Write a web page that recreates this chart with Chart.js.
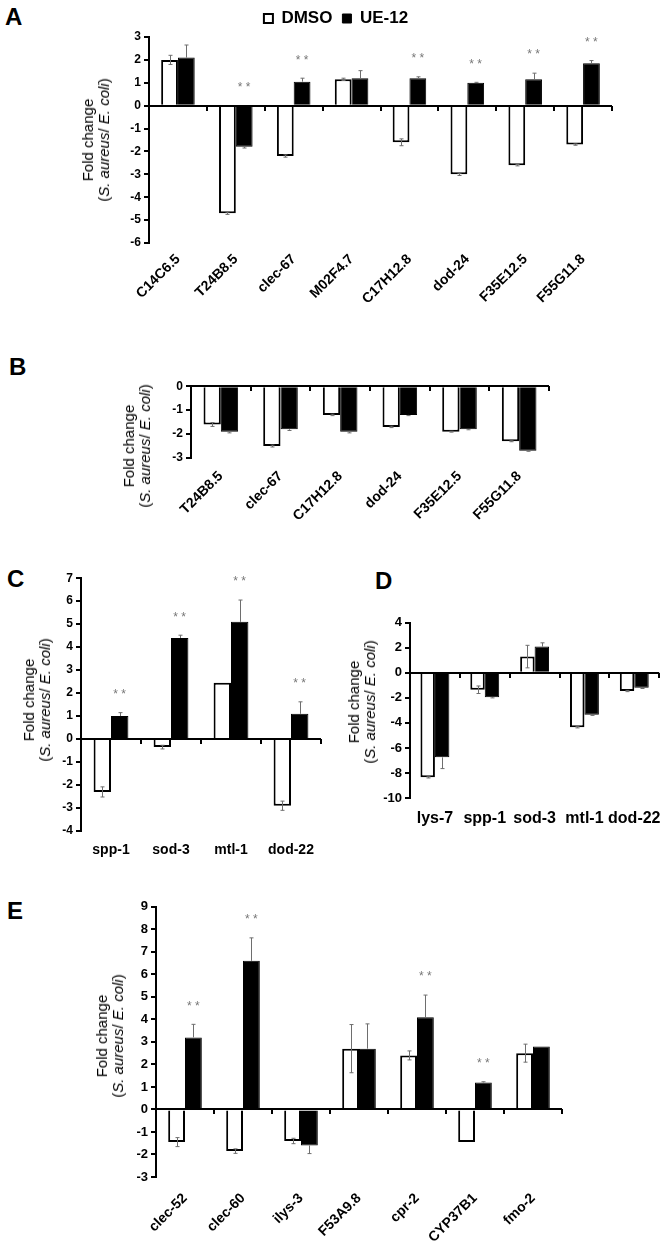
<!DOCTYPE html>
<html>
<head>
<meta charset="utf-8">
<script src="https://cdn.jsdelivr.net/npm/chart.js@4.4.1/dist/chart.umd.min.js"></script>
<style>
  html, body { margin: 0; padding: 0; background: #fff; }
  body { width: 672px; height: 1244px; position: relative; overflow: hidden; font-family: "Liberation Sans", Arial, sans-serif; color: #000; }
  .box { position: absolute; }
  .letter { position: absolute; font-weight: bold; font-size: 24px; line-height: 1; }
  .ytitle { position: absolute; transform: translate(-50%, -50%) rotate(-90deg); white-space: nowrap; text-align: center; font-size: 15px; line-height: 16px; }
</style>
</head>
<body>
<div class="letter" style="left:5px; top:5px">A</div>
<div class="letter" style="left:9px; top:355px">B</div>
<div class="letter" style="left:7px; top:567px">C</div>
<div class="letter" style="left:375px; top:569px">D</div>
<div class="letter" style="left:7px; top:899px">E</div>

<div class="box" style="left:0; top:0; width:672px; height:313px"><canvas id="chartA"></canvas></div>
<div class="box" style="left:0; top:376px; width:569px; height:162px"><canvas id="chartB"></canvas></div>
<div class="box" style="left:0; top:568px; width:340px; height:303px"><canvas id="chartC"></canvas></div>
<div class="box" style="left:340px; top:612px; width:332px; height:226px"><canvas id="chartD"></canvas></div>
<div class="box" style="left:0; top:896px; width:600px; height:348px"><canvas id="chartE"></canvas></div>

<div class="ytitle" style="left:96px; top:140px">Fold change<br>(<i>S. aureus</i>/ <i>E. coli</i>)</div>
<div class="ytitle" style="left:137px; top:446px">Fold change<br>(<i>S. aureus</i>/ <i>E. coli</i>)</div>
<div class="ytitle" style="left:37px; top:700px">Fold change<br>(<i>S. aureus</i>/ <i>E. coli</i>)</div>
<div class="ytitle" style="left:362px; top:702px">Fold change<br>(<i>S. aureus</i>/ <i>E. coli</i>)</div>
<div class="ytitle" style="left:110px; top:1036px">Fold change<br>(<i>S. aureus</i>/ <i>E. coli</i>)</div>

<script>
// panel A
const catsA = ["C14C6.5", "T24B8.5", "clec-67", "M02F4.7", "C17H12.8", "dod-24", "F35E12.5", "F55G11.8"];
const dmsoA = [2.0, -4.7, -2.2, 1.15, -1.6, -3.0, -2.6, -1.7];
const dmsoErrA = [0.2, 0.05, 0.05, 0.05, 0.15, 0.05, 0.03, 0.03];
const ueA = [2.1, -1.8, 1.05, 1.2, 1.2, 1.0, 1.15, 1.85];
const ueErrA = [0.55, 0.05, 0.15, 0.33, 0.06, 0.02, 0.27, 0.12];
const sigA = [false, true, true, false, true, true, true, true];
const ticksA = { min: -6, max: 3, step: 1 };

// panel B
const catsB = ["T24B8.5", "clec-67", "C17H12.8", "dod-24", "F35E12.5", "F55G11.8"];
const dmsoB = [-1.6, -2.5, -1.2, -1.7, -1.9, -2.3];
const dmsoErrB = [0.08, 0.04, 0.03, 0.03, 0.02, 0.02];
const ueB = [-1.9, -1.8, -1.9, -1.2, -1.8, -2.7];
const ueErrB = [0.05, 0.05, 0.05, 0.03, 0.02, 0.02];
const sigB = [false, false, false, false, false, false];
const ticksB = { min: -3, max: 0, step: 1 };

// panel C
const catsC = ["spp-1", "sod-3", "mtl-1", "dod-22"];
const dmsoC = [-2.3, -0.35, 2.45, -2.9];
const dmsoErrC = [0.22, 0.08, 0, 0.2];
const ueC = [1.0, 4.4, 5.1, 1.1];
const ueErrC = [0.15, 0.12, 0.95, 0.52];
const sigC = [true, true, true, true];
const ticksC = { min: -4, max: 7, step: 1 };

// panel D
const catsD = ["lys-7", "spp-1", "sod-3", "mtl-1", "dod-22"];
const dmsoD = [-8.35, -1.35, 1.3, -4.35, -1.45];
const dmsoErrD = [0.05, 0.3, 0.9, 0.05, 0.05];
const ueD = [-6.75, -1.95, 2.1, -3.35, -1.2];
const ueErrD = [0.9, 0.05, 0.3, 0.05, 0.05];
const sigD = [false, false, false, false, false];
const ticksD = { min: -10, max: 4, step: 2 };

// panel E
const catsE = ["clec-52", "clec-60", "ilys-3", "F53A9.8", "cpr-2", "CYP37B1", "fmo-2"];
const dmsoE = [-1.45, -1.85, -1.4, 2.7, 2.4, -1.45, 2.5];
const dmsoErrE = [0.2, 0.1, 0.12, 1.07, 0.2, 0, 0.4];
const ueE = [3.2, 6.6, -1.6, 2.7, 4.1, 1.2, 2.8];
const ueErrE = [0.58, 1.02, 0.36, 1.1, 0.98, 0.03, 0];
const sigE = [true, true, false, false, true, true, false];
const ticksE = { min: -3, max: 9, step: 1 };

const FONT = "'Liberation Sans', Arial, sans-serif";

// axis line through zero with small ticks between the groups
const zeroLine = {
  id: "zeroLine",
  afterDatasetsDraw(chart) {
    const { ctx, chartArea: a, scales: { y } } = chart;
    const y0 = Math.round(y.getPixelForValue(0));
    const n = chart.data.labels.length;
    const step = (a.right - a.left) / n;
    ctx.save();
    ctx.strokeStyle = "#000";
    ctx.lineWidth = 2;
    ctx.beginPath();
    ctx.moveTo(a.left, y0);
    ctx.lineTo(a.right, y0);
    for (let i = 1; i <= n; i++) {
      const px = Math.round(a.left + i * step);
      ctx.moveTo(px, y0);
      ctx.lineTo(px, y0 + 5);
    }
    ctx.stroke();
    ctx.restore();
  }
};

const errorBars = {
  id: "errorBars",
  afterDatasetsDraw(chart) {
    const { ctx, scales: { y } } = chart;
    ctx.save();
    ctx.strokeStyle = "#6e6e6e";
    ctx.lineWidth = 1;
    chart.data.datasets.forEach((ds, di) => {
      chart.getDatasetMeta(di).data.forEach((bar, i) => {
        const v = ds.data[i];
        const e = ds.errors[i];
        if (!e) return;
        const sgn = v < 0 ? -1 : 1;
        const outer = y.getPixelForValue(v + sgn * e);
        const inner = ds.errorInside ? y.getPixelForValue(v - sgn * e) : bar.y;
        const x = Math.round(bar.x) + 0.5;
        ctx.beginPath();
        ctx.moveTo(x, inner);
        ctx.lineTo(x, outer);
        ctx.moveTo(x - 2, outer);
        ctx.lineTo(x + 2, outer);
        if (ds.errorInside) {
          ctx.moveTo(x - 2, inner);
          ctx.lineTo(x + 2, inner);
        }
        ctx.stroke();
      });
    });
    ctx.restore();
  }
};

const starMarks = {
  id: "starMarks",
  afterDatasetsDraw(chart, args, opts) {
    if (!opts.flags) return;
    const { ctx, scales: { y } } = chart;
    const ds = chart.data.datasets[1];
    const meta = chart.getDatasetMeta(1);
    ctx.save();
    ctx.fillStyle = "#777";
    ctx.font = "12px " + FONT;
    ctx.textAlign = "center";
    ctx.textBaseline = "middle";
    opts.flags.forEach((f, i) => {
      if (!f) return;
      const v = ds.data[i];
      const top = v > 0 ? v + (ds.errors[i] || 0) : 0;
      ctx.fillText("* *", meta.data[i].x, y.getPixelForValue(top) - 18);
    });
    ctx.restore();
  }
};

function makeChart(id, cats, dmso, dmsoErr, ue, ueErr, sig, t, o) {
  const scales = {
    x: {
      grid: { display: false, drawTicks: false },
      border: { display: false },
      ticks: {
        autoSkip: false,
        minRotation: o.rot,
        maxRotation: o.rot,
        padding: o.xPad,
        color: "#000",
        font: { family: FONT, weight: "bold", size: o.xFont }
      },
      afterFit: (s) => { s.height = o.xHeight; }
    },
    y: {
      min: t.min,
      max: t.max,
      ticks: { stepSize: t.step, padding: 3, color: "#000", font: { family: FONT, weight: "bold", size: o.yFont } },
      grid: { drawOnChartArea: false, color: "#000", lineWidth: 2, tickLength: 5 },
      border: { color: "#000", width: 2 },
      afterFit: (s) => { s.width = o.yWidth; }
    }
  };
  if (o.rightSpace) {
    // empty right-hand strip so the legend stays centred on the page
    scales.yRight = {
      position: "right",
      grid: { display: false, drawTicks: false },
      border: { display: false },
      ticks: { display: false },
      afterFit: (s) => { s.width = o.rightSpace; }
    };
  }
  return new Chart(document.getElementById(id), {
    type: "bar",
    data: {
      labels: cats,
      datasets: [
        { label: "DMSO", data: dmso, errors: dmsoErr, errorInside: true, backgroundColor: "#fff", borderColor: "#000", borderWidth: 2 },
        { label: "UE-12", data: ue, errors: ueErr, errorInside: false, backgroundColor: "#000", borderColor: "#000", borderWidth: 1 }
      ]
    },
    options: {
      responsive: true,
      maintainAspectRatio: false,
      animation: false,
      layout: { padding: o.padding },
      datasets: { bar: { categoryPercentage: 0.58, barPercentage: 1 } },
      plugins: {
        legend: {
          display: !!o.legend,
          position: "top",
          labels: { boxWidth: 9, boxHeight: 9, padding: 10, color: "#000", font: { family: FONT, weight: "bold", size: 17 } }
        },
        tooltip: { enabled: false },
        starMarks: { flags: sig }
      },
      scales: scales
    },
    plugins: [zeroLine, errorBars, starMarks]
  });
}

makeChart("chartA", catsA, dmsoA, dmsoErrA, ueA, ueErrA, sigA, ticksA,
  { legend: true, rightSpace: 60, padding: { top: 0, right: 0 }, yWidth: 149, xHeight: 70, rot: 45, xPad: 8, xFont: 14, yFont: 12 });
makeChart("chartB", catsB, dmsoB, dmsoErrB, ueB, ueErrB, sigB, ticksB,
  { padding: { top: 10, right: 20 }, yWidth: 191, xHeight: 80, rot: 45, xPad: 10, xFont: 14, yFont: 12 });
makeChart("chartC", catsC, dmsoC, dmsoErrC, ueC, ueErrC, sigC, ticksC,
  { padding: { top: 10, right: 19 }, yWidth: 81, xHeight: 40, rot: 0, xPad: 11, xFont: 14, yFont: 12 });
makeChart("chartD", catsD, dmsoD, dmsoErrD, ueD, ueErrD, sigD, ticksD,
  { padding: { top: 10, right: 5 }, yWidth: 70, xHeight: 40, rot: 0, xPad: 11, xFont: 16, yFont: 13 });
makeChart("chartE", catsE, dmsoE, dmsoErrE, ueE, ueErrE, sigE, ticksE,
  { padding: { top: 10, right: 38 }, yWidth: 156, xHeight: 67, rot: 45, xPad: 13, xFont: 14, yFont: 13 });
</script>
</body>
</html>
